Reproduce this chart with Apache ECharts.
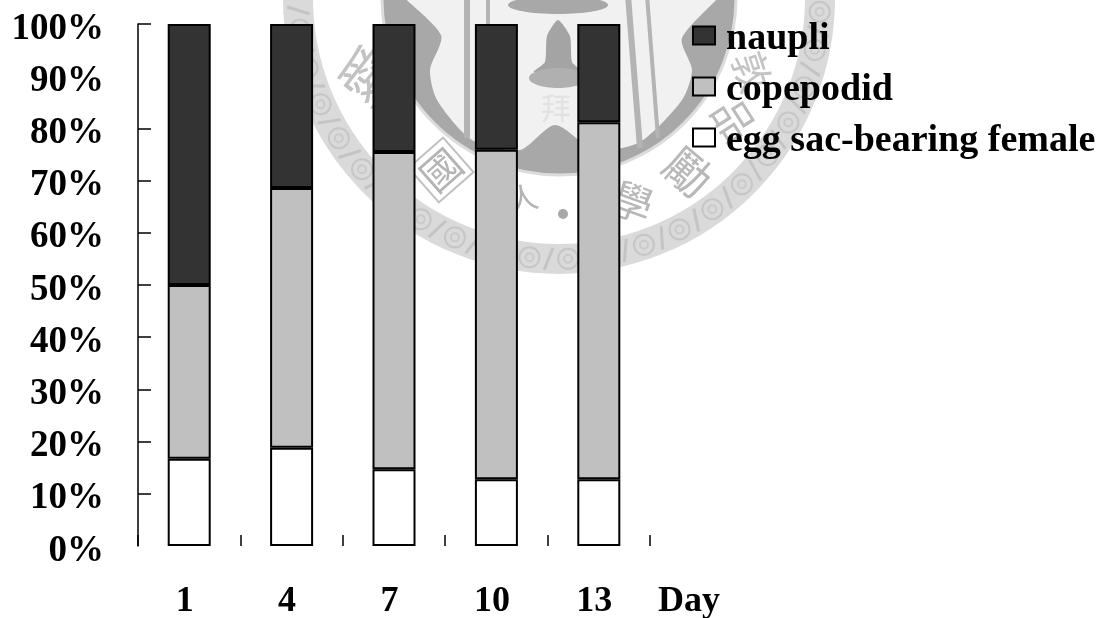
<!DOCTYPE html>
<html>
<head>
<meta charset="utf-8">
<style>html,body{margin:0;padding:0;background:#fff}#chart{width:1108px;height:618px}</style>
<script src="https://cdn.jsdelivr.net/npm/echarts@6/dist/echarts.min.js"></script>
</head>
<body>
<div id="chart"></div>
<script>
// Life-stage composition of the culture per sampling day (percent of individuals)
const days = ['1', '4', '7', '10', '13'];
const eggFemale = [16.7, 18.8, 14.7, 12.8, 12.8];
const copepodid = [33.3, 49.8, 60.8, 63.1, 68.4];
const naupli = [50.0, 31.4, 24.5, 24.1, 18.8];
const yTickValues = [10, 20, 30, 40, 50, 60, 70, 80, 100];
const seriesNames = ['naupli', 'copepodid', 'egg sac-bearing female'];

const serif = '"Liberation Serif", serif';

// University seal printed faintly behind the plot
const sealX = 559, sealY = -2;
const seal = [];
seal.push({ type: 'circle', shape: { cx: sealX, cy: sealY, r: 261 }, style: { fill: 'none', stroke: '#dadada', lineWidth: 30 } });
for (let deg = 3; deg < 180; deg += 8.5) {
  const a = deg * Math.PI / 180;
  const cx = sealX + 261 * Math.cos(a), cy = sealY + 261 * Math.sin(a);
  seal.push({ type: 'circle', shape: { cx, cy, r: 10 }, style: { fill: 'none', stroke: '#c6c6c6', lineWidth: 2 } });
  seal.push({ type: 'circle', shape: { cx, cy, r: 4 }, style: { fill: 'none', stroke: '#cacaca', lineWidth: 2 } });
  const b = (deg + 4.25) * Math.PI / 180;
  seal.push({ type: 'line', shape: {
    x1: sealX + 250 * Math.cos(b - 0.015), y1: sealY + 250 * Math.sin(b - 0.015),
    x2: sealX + 272 * Math.cos(b + 0.015), y2: sealY + 272 * Math.sin(b + 0.015)
  }, style: { stroke: '#c4c4c4', lineWidth: 3 } });
}
seal.push({ type: 'circle', shape: { cx: sealX, cy: sealY, r: 177 }, style: { fill: '#a8a8a8', stroke: '#dcdcdc', lineWidth: 3 } });
seal.push({ type: 'polygon', shape: { smooth: 0.25, points: [[388, -25], [441, 35], [430, 70], [437, 100], [472, 140], [520, 150], [555, 125], [595, 150], [640, 142], [682, 100], [692, 70], [682, 38], [732, -25]] }, style: { fill: '#f1f1f1' } });
// Torches flanking the bell
[[467, 467, 138, 6], [488, 488, 25, 4], [628, 640, 148, 6], [647, 658, 138, 4]].forEach(([x1, x2, y2, lineWidth]) => {
  seal.push({ type: 'line', shape: { x1, y1: -5, x2, y2 }, style: { stroke: '#b4b4b4', lineWidth } });
});
// Bell
seal.push({ type: 'ellipse', shape: { cx: 558, cy: 5, rx: 50, ry: 9 }, style: { fill: '#a8a8a8' } });
seal.push({ type: 'polygon', shape: { smooth: 0.2, points: [[558, 20], [570, 36], [572, 62], [582, 72], [534, 72], [545, 62], [547, 36]] }, style: { fill: '#a4a4a4' } });
seal.push({ type: 'ellipse', shape: { cx: 558, cy: 78, rx: 29, ry: 10 }, style: { fill: '#b0b0b0' } });
// Seal characters around the inner band
[
  ['國', 441, 170, 0.72, 40, '#b4b4b4'],
  ['愛', 368, 75, 0.9, 56, '#c2c2c2'],
  ['人', 523, 198, 0.2, 30, '#b4b4b4'],
  ['學', 632, 202, -0.35, 42, '#b8b8b8'],
  ['勵', 688, 172, -0.7, 46, '#b8b8b8'],
  ['品', 734, 120, -1.0, 42, '#bcbcbc'],
  ['敦', 752, 72, -1.25, 40, '#c4c4c4'],
  ['拜', 556, 108, 0, 30, '#e2e2e2']
].forEach(([ch, x, y, rot, size, fill]) => {
  seal.push({ type: 'text', x, y, rotation: rot, style: { text: ch, font: size + 'px "Noto Sans CJK TC"', fill, align: 'center', verticalAlign: 'middle' } });
});
seal.push({ type: 'rect', x: 441, y: 170, rotation: 0.72, shape: { x: -23, y: -23, width: 46, height: 46 }, style: { fill: 'none', stroke: '#c0c0c0', lineWidth: 2 } });
seal.push({ type: 'circle', shape: { cx: 563, cy: 214, r: 5 }, style: { fill: '#a8a8a8' } });

// Axis caption sitting on the tick-label row
const dayCaption = { type: 'text', x: 658, y: 602, z: 5, style: { text: 'Day', font: 'bold 36px "Liberation Serif"', fill: '#000', align: 'left', verticalAlign: 'middle' } };

const chart = echarts.init(document.getElementById('chart'), null, { renderer: 'canvas' });

function stage(name, values, fill) {
  return {
    name, type: 'bar', stack: 'total', data: values, barWidth: 43,
    itemStyle: { color: fill, borderColor: '#000', borderWidth: 2 },
    emphasis: { disabled: true }
  };
}

chart.setOption({
  animation: false,
  backgroundColor: '#fff',
  graphic: { elements: seal.concat([dayCaption]) },
  grid: { left: 138, right: 458, top: 24, bottom: 72, outerBoundsMode: 'none' },
  legend: {
    orient: 'vertical', left: 692, top: 15.5, padding: 0, itemWidth: 22, itemHeight: 18, itemGap: 8,
    selectedMode: false, icon: 'rect',
    data: seriesNames,
    // The spacer line drops each legend name slightly below its swatch
    formatter: name => '{s| }\n{t|' + name + '}',
    textStyle: {
      color: '#000', padding: [0, 0, 0, 6],
      rich: {
        s: { fontSize: 1, lineHeight: 8, height: 8 },
        t: { fontFamily: serif, fontWeight: 'bold', fontSize: 38, lineHeight: 32, color: '#000' }
      }
    }
  },
  xAxis: {
    type: 'category', data: days,
    axisLine: { show: false },
    axisTick: { show: true, inside: true, length: 11, lineStyle: { color: '#000', width: 1.5 } },
    axisLabel: { fontFamily: serif, fontSize: 36, fontWeight: 'bold', color: '#000', margin: 38, padding: [0, 9, 0, 0] }
  },
  yAxis: {
    type: 'value', min: 0, max: 100, interval: 10,
    axisLine: { show: true, lineStyle: { color: '#000', width: 1.5 } },
    axisTick: { show: true, inside: true, length: 13, customValues: yTickValues, lineStyle: { color: '#000', width: 1.5 } },
    splitLine: { show: false },
    axisLabel: {
      color: '#000', margin: 34, verticalAlign: 'middle',
      // A thin spacer line above each label lowers the percent text a few pixels
      formatter: v => '{s| }\n{t|' + v + '%}',
      rich: {
        s: { fontSize: 1, lineHeight: 10, height: 10 },
        t: { fontFamily: serif, fontSize: 37, fontWeight: 'bold', color: '#000', lineHeight: 37 }
      }
    }
  },
  series: [
    stage(seriesNames[2], eggFemale, '#ffffff'),
    stage(seriesNames[1], copepodid, '#c0c0c0'),
    stage(seriesNames[0], naupli, '#333333')
  ]
});
</script>
</body>
</html>
